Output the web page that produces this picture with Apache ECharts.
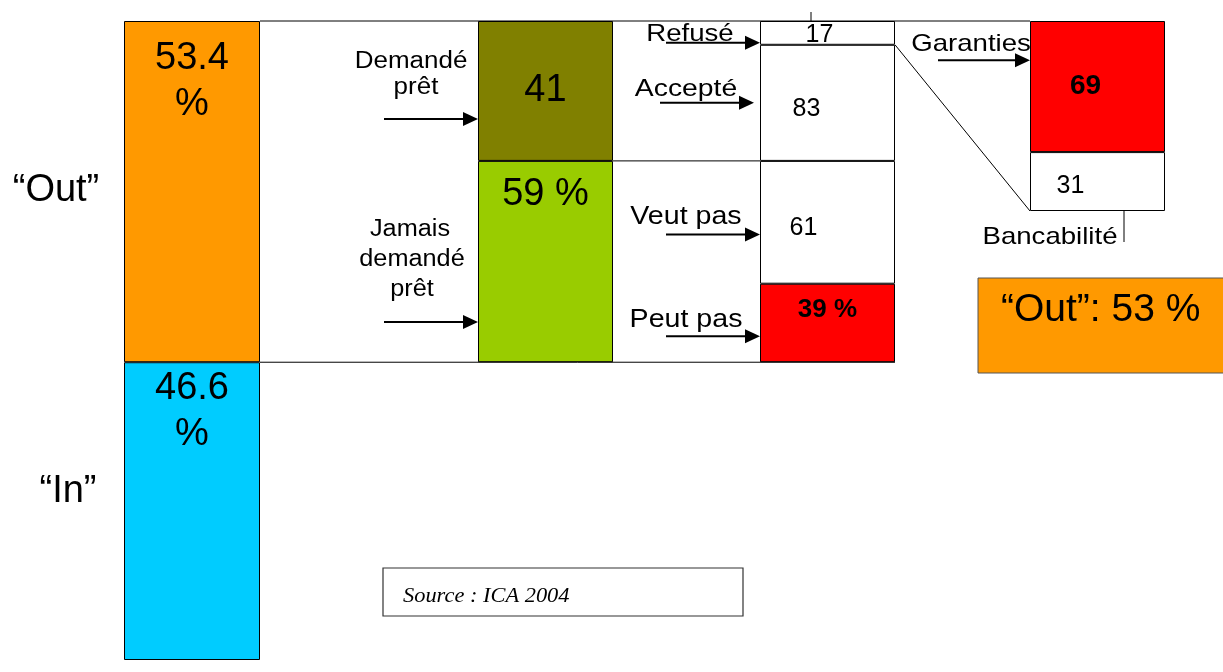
<!DOCTYPE html>
<html>
<head>
<meta charset="utf-8">
<title>Out / In - ICA 2004</title>
<script src="https://cdn.jsdelivr.net/npm/echarts@6/dist/echarts.min.js"></script>
<style>
  html, body { margin: 0; padding: 0; background: #fff; }
  #chart { width: 1223px; height: 672px; }
</style>
</head>
<body>
<div id="chart"></div>
<script>
// données
var populationLabels = ['“Out”', '“In”'];
var populationShare = [53.4, 46.6];
var demandeLabels = ['Demandé prêt', 'Jamais demandé prêt'];
var demandeShare = [41, 59];
var reponseLabels = ['Refusé', 'Accepté'];
var reponseShare = [17, 83];
var raisonLabels = ['Veut pas', 'Peut pas'];
var raisonShare = [61, 39];
var bancabiliteLabels = ['Garanties', 'Autre'];
var bancabiliteShare = [69, 31];
var sourceText = 'Source : ICA 2004';

var ORANGE = '#FF9900', BLEU = '#00CCFF', OLIVE = '#808000', VERT = '#99CC00', ROUGE = '#FF0000';
var FONT = '"Liberation Sans", Arial, Helvetica, sans-serif';

// mise en page des colonnes
var TOP = 21;
var COL_H = 639;
var OUT_H = COL_H * populationShare[0] / 100;
var DETAIL_H = 190;
var cols = [
  { left: 124, width: 136, height: COL_H },
  { left: 478, width: 135, height: OUT_H },
  { left: 760, width: 135, height: OUT_H },
  { left: 1030, width: 135, height: DETAIL_H }
];

// 3e colonne : parts rapportées au bloc "Out"
var col3Values = [
  demandeShare[0] * reponseShare[0] / 100,
  demandeShare[0] * reponseShare[1] / 100,
  demandeShare[1] * raisonShare[0] / 100,
  demandeShare[1] * raisonShare[1] / 100
];

function barSeries(idx, name, value, color, label) {
  return {
    type: 'bar',
    name: name,
    xAxisIndex: idx,
    yAxisIndex: idx,
    stack: 'col' + idx,
    barWidth: '100%',
    silent: true,
    itemStyle: { color: color, borderColor: '#000', borderWidth: 1 },
    label: Object.assign({ show: true, color: '#000', fontFamily: FONT }, label),
    data: [value]
  };
}

var chart = echarts.init(document.getElementById('chart'), null, { renderer: 'canvas' });

var option = {
  animation: false,
  backgroundColor: '#fff',
  grid: cols.map(function (c) {
    return { left: c.left, top: TOP, width: c.width, height: c.height, containLabel: false };
  }),
  xAxis: cols.map(function (c, i) {
    return { type: 'category', gridIndex: i, data: ['c'], show: false };
  }),
  yAxis: cols.map(function (c, i) {
    return { type: 'value', gridIndex: i, min: 0, max: 100, inverse: true, show: false };
  }),
  series: [
    barSeries(0, populationLabels[0], populationShare[0], ORANGE,
      { formatter: populationShare[0] + '\n%', position: 'insideTop', distance: 15, fontSize: 38, lineHeight: 46 }),
    barSeries(0, populationLabels[1], populationShare[1], BLEU,
      { formatter: populationShare[1] + '\n%', position: 'insideTop', distance: 3, fontSize: 38, lineHeight: 46 }),

    barSeries(1, demandeLabels[0], demandeShare[0], OLIVE,
      { formatter: String(demandeShare[0]), position: 'inside', fontSize: 38 }),
    barSeries(1, demandeLabels[1], demandeShare[1], VERT,
      { formatter: demandeShare[1] + ' %', position: 'insideTop', distance: 11, fontSize: 38, lineHeight: 46 }),

    barSeries(2, reponseLabels[0], col3Values[0], '#fff',
      { formatter: String(reponseShare[0]), position: 'inside', offset: [-8, 2], fontSize: 25 }),
    barSeries(2, reponseLabels[1], col3Values[1], '#fff',
      { formatter: String(reponseShare[1]), position: 'inside', offset: [-21, 6], fontSize: 25 }),
    barSeries(2, raisonLabels[0], col3Values[2], '#fff',
      { formatter: String(raisonShare[0]), position: 'inside', offset: [-24, 6], fontSize: 25 }),
    barSeries(2, raisonLabels[1], col3Values[3], ROUGE,
      { formatter: raisonShare[1] + ' %', position: 'insideTop', distance: 11, fontSize: 26, lineHeight: 30, fontWeight: 'bold' }),

    barSeries(3, bancabiliteLabels[0], bancabiliteShare[0], ROUGE,
      { formatter: String(bancabiliteShare[0]), position: 'inside', offset: [-12, 0], fontSize: 28, fontWeight: 'bold' }),
    barSeries(3, bancabiliteLabels[1], bancabiliteShare[1], '#fff',
      { formatter: String(bancabiliteShare[1]), position: 'inside', offset: [-27, 5], fontSize: 25 })
  ]
};

chart.setOption(option);

// ---- annotations (traits, flèches, textes) calées sur les barres ----
function yPx(i, v) { return chart.convertToPixel({ yAxisIndex: i }, v); }

var c1R = cols[0].left + cols[0].width;
var c2L = cols[1].left, c2R = cols[1].left + cols[1].width;
var c3L = cols[2].left, c3R = cols[2].left + cols[2].width;
var c4L = cols[3].left;

var outY = yPx(0, populationShare[0]);
var splitY = yPx(1, demandeShare[0]);
var refusBottom = yPx(2, col3Values[0]);
var veutBottom = yPx(2, col3Values[0] + col3Values[1] + col3Values[2]);
var detailBottom = yPx(3, 100);
var rougeBottom = yPx(3, bancabiliteShare[0]);

function line(x1, y1, x2, y2, w) {
  return { type: 'line', z: 10, silent: true,
    shape: { x1: x1, y1: y1, x2: x2, y2: y2 },
    style: { stroke: '#000', lineWidth: w || 1 } };
}
function arrow(xEnd, y, len) {
  len = len || 94;
  return [
    line(xEnd - len, y, xEnd - 10, y, 2),
    { type: 'polygon', z: 10, silent: true,
      shape: { points: [[xEnd - 15, y - 7], [xEnd, y], [xEnd - 15, y + 7]] },
      style: { fill: '#000' } }
  ];
}
// baseline -> position "middle"
function label(x, baseline, text, fs, opt) {
  opt = opt || {};
  return { type: 'text', z: 10, silent: true,
    x: x, y: baseline - 0.32 * fs, scaleX: opt.sx || 1,
    style: {
      text: text, fill: '#000',
      font: (opt.italic ? 'italic ' : '') + fs + 'px ' + (opt.family || FONT),
      align: opt.align || 'center', textAlign: opt.align || 'center',
      verticalAlign: 'middle', textVerticalAlign: 'middle'
    } };
}

var arrowD = TOP + 0.70 * (splitY - TOP);
var arrowJ = splitY + 0.80 * (outY - splitY);
var arrowR = refusBottom - 2;
var arrowA = refusBottom + 0.5 * (splitY - refusBottom);
var arrowV = splitY + 0.6 * (veutBottom - splitY);
var arrowP = veutBottom + 0.67 * (outY - veutBottom);
var arrowG = TOP + 0.3 * (rougeBottom - TOP);

var demande0 = demandeLabels[0].split(' ');
var jamais = ['Jamais', 'demandé', 'prêt'];

var graphics = [
  line(c1R, TOP, c4L, TOP),
  line(c1R, outY, c3R, outY),
  line(c2R, splitY, c3L, splitY),
  line(c3R, refusBottom, c4L, detailBottom),
  line(c3L + 51, 12, c3L + 51, TOP),
  line(c4L + 94, detailBottom, c4L + 94, detailBottom + 31)
]
  .concat(arrow(c2L, arrowD))
  .concat(arrow(c2L, arrowJ))
  .concat(arrow(c3L, arrowR))
  .concat(arrow(c3L - 6, arrowA))
  .concat(arrow(c3L, arrowV))
  .concat(arrow(c3L, arrowP))
  .concat(arrow(c4L, arrowG, 92))
  .concat([
    label(56, (TOP + outY) / 2 + 11, populationLabels[0], 38),
    label(68, outY + 141, populationLabels[1], 38),

    label(411, arrowD - 50, demande0[0], 23, { sx: 1.13 }),
    label(416, arrowD - 24, demande0[1], 23, { sx: 1.13 }),
    label(410, arrowJ - 85, jamais[0], 23, { sx: 1.1 }),
    label(412, arrowJ - 55, jamais[1], 23, { sx: 1.1 }),
    label(412, arrowJ - 25, jamais[2], 23, { sx: 1.1 }),

    label(690, arrowR - 1, reponseLabels[0], 23, { sx: 1.2 }),
    label(686, arrowA - 6, reponseLabels[1], 24, { sx: 1.18 }),
    label(686, arrowV - 9, raisonLabels[0], 26, { sx: 1.1 }),
    label(686, arrowP - 8, raisonLabels[1], 26, { sx: 1.1 }),
    label(971, arrowG - 8, bancabiliteLabels[0], 24, { sx: 1.15 }),
    label(1050, detailBottom + 34, 'Bancabilité', 24, { sx: 1.15 }),

    { type: 'rect', z: 9, silent: true,
      shape: { x: 978, y: 278, width: 260, height: 95 },
      style: { fill: ORANGE, stroke: '#555', lineWidth: 1 } },
    label(1001, 323, populationLabels[0] + ': ' + Math.round(populationShare[0]) + ' %', 39, { align: 'left' }),

    { type: 'rect', z: 9, silent: true,
      shape: { x: 383, y: 568, width: 360, height: 48 },
      style: { fill: '#fff', stroke: '#333', lineWidth: 1.2 } },
    label(403, 603, sourceText, 20, { align: 'left', italic: true, sx: 1.12,
      family: '"Liberation Serif", "Times New Roman", serif' })
  ]);

chart.setOption({ graphic: { elements: graphics } });
</script>
</body>
</html>
